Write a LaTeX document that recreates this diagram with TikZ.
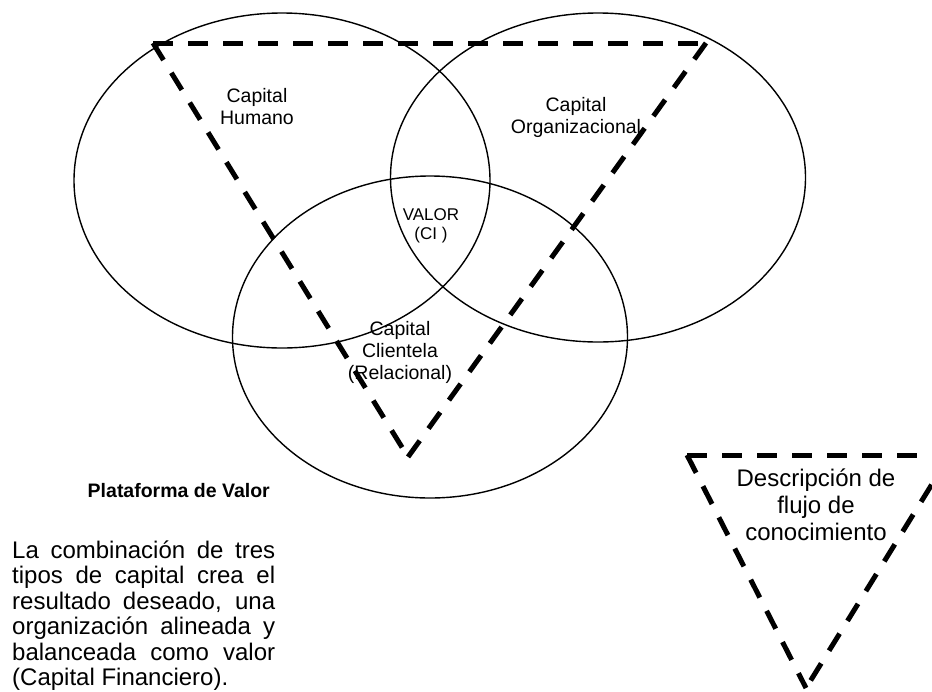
\documentclass[tikz,border=0pt]{standalone}
\usepackage{fontspec}
\setmainfont{Liberation Sans}
\begin{document}
\begin{tikzpicture}[x=1pt,y=-1pt,
  ell/.style={draw=black, line width=1.4pt},
  tri/.style={draw=black, line width=5pt, dash pattern=on 20pt off 15pt},
  lbl/.style={font=\fontsize{19.5}{22}\selectfont, align=center, inner sep=0pt, anchor=north},
  small/.style={font=\fontsize{17}{19.5}\selectfont, align=center, inner sep=0pt, anchor=north},
  big/.style={font=\fontsize{24}{27}\selectfont, align=center, inner sep=0pt, anchor=north},
  para/.style={font=\fontsize{24}{26}\selectfont, inner sep=0pt, anchor=base west}
]
\useasboundingbox (0,0) rectangle (932,691);
\clip (0,0) rectangle (932,691);
% circles
\draw[ell] (282,180.5) ellipse [x radius=208, y radius=167.5];
\draw[ell] (598,177.5) ellipse [x radius=207.5, y radius=164.5];
\draw[ell] (430,337) ellipse [x radius=197.5, y radius=161];
% big triangle
\coordinate (TL) at (153,43);
\coordinate (TR) at (706,43);
\coordinate (TB) at (408,457);
\draw[tri] (TL) -- (TR);
\draw[tri] (TR) -- (TB);
\draw[tri] (TL) -- (TB);
% small triangle
\coordinate (sTL) at (687,455);
\coordinate (sTR) at (950,455);
\coordinate (sB) at (806,688);
\draw[tri] (sTL) -- (sTR);
\draw[tri] (sTL) -- (sB);
\draw[tri] (sTR) -- (sB);
% labels
\node[lbl] (hum) at (257,88) {Capital\\Humano};
\node[lbl] (org) at (576,97) {Capital\\Organizacional};
\node[small] (val) at (431,208) {VALOR\\(CI )};
\node[lbl] (cli) at (400,321) {Capital\\Clientela\\(Relacional)};
\node[big] (des) at (816,469) {Descripción de\\flujo de\\conocimiento};
\node[font=\bfseries\fontsize{19.5}{22}\selectfont, inner sep=0pt, anchor=base east] (tit) at (270,497) {Plataforma de Valor};
\node[para] (p1) at (12,558) {\makebox[263pt][s]{La combinación de tres}};
\node[para] (p2) at (12,583.5) {\makebox[263pt][s]{tipos de capital crea el}};
\node[para] (p3) at (12,609) {\makebox[263pt][s]{resultado deseado, una}};
\node[para] (p4) at (12,634.5) {\makebox[263pt][s]{organización alineada y}};
\node[para] (p5) at (12,660) {\makebox[263pt][s]{balanceada como valor}};
\node[para] (p6) at (12,685.5) {(Capital Financiero).};
\end{tikzpicture}
\end{document}
